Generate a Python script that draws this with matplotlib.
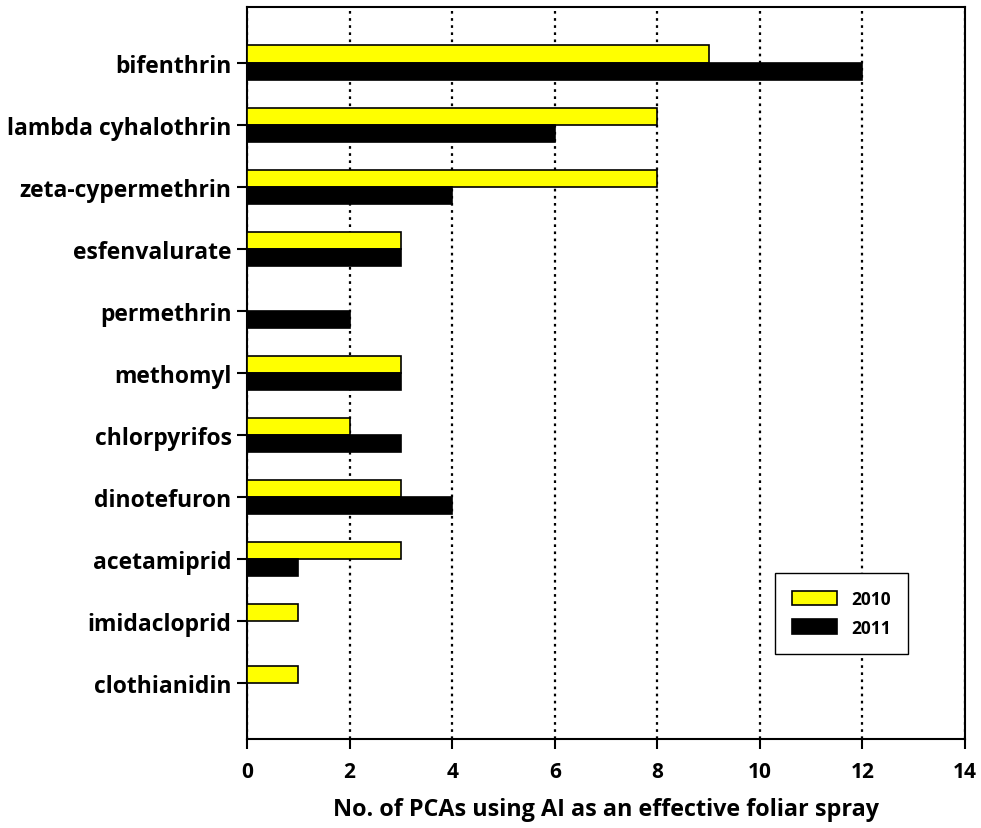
import numpy as np
import matplotlib.pyplot as plt
from matplotlib import font_manager

# ------------------------------------------------------
# DATA
# ------------------------------------------------------
chemicals = ['bifenthrin', 'lambda cyhalothrin', 'zeta-cypermethrin', 'esfenvalurate',
             'permethrin', 'methomyl', 'chlorpyrifos', 'dinotefuron', 'acetamiprid',
             'imidacloprid', 'clothianidin']
pcas2010 = [9, 8, 8, 3, 0, 3, 2, 3, 3, 1, 1]
pcas2011 = [12, 6, 4, 3, 2, 3, 3, 4, 1, 0, 0]
xticks = [0, 2, 4, 6, 8, 10, 12, 14]

# Fonts
names = set(f.name for f in font_manager.fontManager.ttflist)
labelFont = 'Open Sans' if 'Open Sans' in names else 'DejaVu Sans'
numFont = 'Liberation Sans Narrow' if 'Liberation Sans Narrow' in names else labelFont

fig = plt.figure(figsize=(9.81, 8.29), dpi=100)
ax1 = fig.add_axes([0.2518, 0.1074, 0.9837 - 0.2518, 0.9903 - 0.1074])

y = np.arange(len(chemicals))[::-1].astype(float)
h = 0.28

ax1.barh(y + h/2, pcas2010, height=h, color='#FFFF00', edgecolor='k', linewidth=1.2, label='2010', zorder=3)
ax1.barh(y - h/2, pcas2011, height=h, color='k', edgecolor='k', linewidth=1.2, label='2011', zorder=3)

ax1.set_xlim(0, 14)
ax1.set_ylim(-0.9, len(chemicals) - 1 + 0.9)
ax1.set_xticks(xticks)
ax1.set_xticklabels([str(t) for t in xticks], fontfamily=numFont, fontweight='bold', fontsize=15)
ax1.set_yticks(y)
ax1.set_yticklabels(chemicals, fontfamily=labelFont, fontweight='bold', fontsize=16.5)

# Dotted vertical grid
ax1.xaxis.grid(True, linestyle=(0, (1.2, 2.0)), color='k', linewidth=1.6, zorder=0)
ax1.set_axisbelow(True)

for s in ax1.spines.values():
    s.set_linewidth(1.5)
ax1.tick_params(axis='both', direction='out', length=7, width=1.5, colors='k')
ax1.tick_params(axis='x', pad=9)
ax1.tick_params(axis='y', pad=4)

ax1.set_xlabel('No. of PCAs using AI as an effective foliar spray', fontfamily=labelFont,
               fontweight='bold', fontsize=16.8, labelpad=11)

leg = ax1.legend(loc='lower right', bbox_to_anchor=(0.9256, 0.2099), bbox_transform=fig.transFigure,
                 borderaxespad=0, fancybox=False, edgecolor='k', framealpha=1,
                 prop={'family': labelFont, 'weight': 'bold', 'size': 12.5},
                 handlelength=2.6, handleheight=0.9, borderpad=1.0, labelspacing=0.6,
                 handletextpad=0.8)
leg.get_frame().set_linewidth(1.0)

fig.savefig('out.png', dpi=100)
